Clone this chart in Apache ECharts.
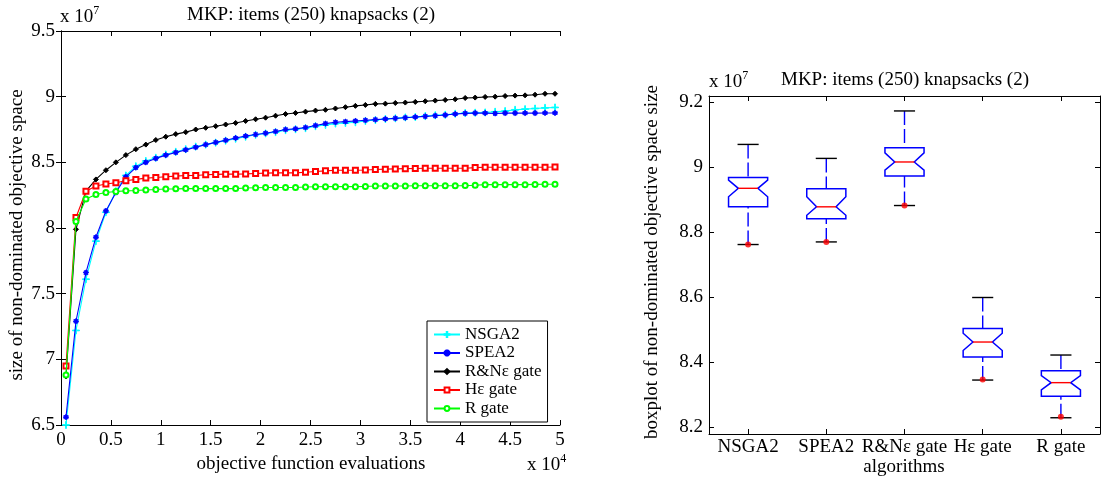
<!DOCTYPE html>
<html><head><meta charset="utf-8">
<script src="https://cdn.jsdelivr.net/npm/echarts@6/dist/echarts.min.js"></script>
<style>html,body{margin:0;padding:0;background:#fff}#c{width:1102px;height:480px}</style>
</head><body><div id="c"></div>
<script>
// ---- left chart data (x in units of 1e4 evaluations, y in units of 1e7) ----
const evals = [0.05,0.15,0.25,0.35,0.45,0.55,0.65,0.75,0.85,0.95,1.05,1.15,1.25,1.35,1.45,1.55,1.65,1.75,1.85,1.95,2.05,2.15,2.25,2.35,2.45,2.55,2.65,2.75,2.85,2.95,3.05,3.15,3.25,3.35,3.45,3.55,3.65,3.75,3.85,3.95,4.05,4.15,4.25,4.35,4.45,4.55,4.65,4.75,4.85,4.95];
const nsga2 = [6.50,7.22,7.61,7.90,8.12,8.28,8.40,8.47,8.51,8.535,8.56,8.58,8.60,8.62,8.635,8.65,8.665,8.68,8.695,8.71,8.72,8.73,8.745,8.752,8.76,8.775,8.785,8.795,8.80,8.805,8.815,8.822,8.83,8.835,8.842,8.845,8.852,8.858,8.862,8.87,8.875,8.878,8.88,8.885,8.89,8.90,8.905,8.91,8.915,8.918];
const spea2 = [6.56,7.29,7.66,7.93,8.13,8.27,8.39,8.46,8.50,8.53,8.555,8.575,8.595,8.615,8.635,8.652,8.668,8.685,8.70,8.712,8.722,8.735,8.75,8.755,8.765,8.78,8.795,8.805,8.81,8.815,8.82,8.825,8.83,8.835,8.84,8.845,8.85,8.855,8.86,8.868,8.873,8.875,8.875,8.872,8.875,8.875,8.875,8.875,8.876,8.876];
const rnGate = [6.87,7.99,8.28,8.37,8.44,8.50,8.555,8.60,8.635,8.67,8.695,8.715,8.73,8.75,8.763,8.775,8.788,8.80,8.815,8.828,8.84,8.855,8.868,8.876,8.886,8.894,8.90,8.91,8.92,8.93,8.937,8.945,8.947,8.952,8.955,8.96,8.965,8.97,8.975,8.98,8.99,8.993,8.998,9.0,9.005,9.008,9.01,9.015,9.022,9.022];
const heGate = [6.95,8.08,8.28,8.32,8.335,8.345,8.36,8.37,8.38,8.385,8.39,8.395,8.40,8.40,8.405,8.408,8.41,8.41,8.412,8.415,8.418,8.42,8.42,8.42,8.425,8.43,8.435,8.44,8.44,8.44,8.442,8.445,8.448,8.45,8.452,8.453,8.455,8.455,8.455,8.455,8.455,8.46,8.462,8.462,8.462,8.462,8.463,8.463,8.463,8.465];
const rGate = [6.88,8.05,8.22,8.255,8.27,8.278,8.283,8.285,8.29,8.293,8.297,8.298,8.30,8.30,8.30,8.30,8.30,8.30,8.305,8.307,8.308,8.308,8.308,8.308,8.312,8.314,8.315,8.315,8.315,8.315,8.316,8.32,8.32,8.32,8.32,8.322,8.322,8.322,8.322,8.322,8.323,8.325,8.33,8.33,8.33,8.33,8.33,8.332,8.333,8.333];
const seriesNames = ['NSGA2','SPEA2','R&Nε gate','Hε gate','R gate'];

// ---- right chart data (units of 1e7) ----
const boxCats = ['NSGA2','SPEA2','R&Nε gate','Hε gate','R gate'];
const boxLow   = [8.763, 8.771, 8.883, 8.346, 8.230];
const boxQ1    = [8.879, 8.842, 8.974, 8.417, 8.296];
const notchLo  = [8.910, 8.853, 8.992, 8.437, 8.316];
const boxMed   = [8.936, 8.879, 9.017, 8.463, 8.338];
const notchHi  = [8.961, 8.910, 9.045, 8.490, 8.360];
const boxQ3    = [8.969, 8.935, 9.061, 8.505, 8.375];
const boxHigh  = [9.071, 9.028, 9.174, 8.600, 8.423];
const outliers = [8.763, 8.771, 8.883, 8.348, 8.233];
const yTicksRight = [8.2, 8.4, 8.6, 8.8, 9, 9.2];

const FF = '"Liberation Serif", "Times New Roman", serif';
const FS = 19;
const black = '#000';

const plusPath = 'path://M-0.8,-8h1.6v7.2h7.2v1.6h-7.2v7.2h-1.6v-7.2h-7.2v-1.6h7.2z';
const starPath = 'path://M-1,-7h2v14h-2zM-7,-1h14v2h-14zM-5.7,-4.3L-4.3,-5.7L5.7,4.3L4.3,5.7zM4.3,-5.7L5.7,-4.3L-4.3,5.7L-5.7,4.3z';

function lineSeries(name, vals, color, symbol, size, z) {
  return {
    type: 'line', name, xAxisIndex: 0, yAxisIndex: 0, z,
    data: evals.map((x, i) => [x, vals[i]]),
    symbol, symbolSize: size, showAllSymbol: true,
    lineStyle: { color, width: 1.1 },
    itemStyle: { color, borderColor: color, borderWidth: 1 }
  };
}

function renderBox(params, api) {
  const i = api.value(0);
  const cx = api.coord([i, api.value(4)])[0];
  const Y = v => api.coord([i, v])[1];
  const bw = api.size([1, 0])[0];
  const hw = bw * 0.25, nw = hw * 0.5, cap = bw * 0.135;
  const lo = Y(api.value(1)), q1 = Y(api.value(2)), nlo = Y(api.value(3)),
        med = Y(api.value(4)), nhi = Y(api.value(5)), q3 = Y(api.value(6)), hi = Y(api.value(7));
  const blue = '#0000ff';
  const ws = { stroke: blue, lineWidth: 1.4, lineDash: [14, 4] };
  const cs = { stroke: black, lineWidth: 1.4 };
  return {
    type: 'group', children: [
      { type: 'line', shape: { x1: cx, y1: hi, x2: cx, y2: q3 }, style: ws },
      { type: 'line', shape: { x1: cx, y1: lo, x2: cx, y2: q1 }, style: ws },
      { type: 'line', shape: { x1: cx - cap, y1: hi, x2: cx + cap, y2: hi }, style: cs },
      { type: 'line', shape: { x1: cx - cap, y1: lo, x2: cx + cap, y2: lo }, style: cs },
      { type: 'polygon', shape: { points: [
          [cx - hw, q3], [cx + hw, q3], [cx + hw, nhi], [cx + nw, med], [cx + hw, nlo],
          [cx + hw, q1], [cx - hw, q1], [cx - hw, nlo], [cx - nw, med], [cx - hw, nhi]
        ] }, style: { fill: 'rgba(0,0,0,0)', stroke: blue, lineWidth: 1.5 } },
      { type: 'line', shape: { x1: cx - nw, y1: med, x2: cx + nw, y2: med }, style: { stroke: '#ff0000', lineWidth: 1.4 } }
    ]
  };
}

const axLine = { show: true, lineStyle: { color: black, width: 1 } };
const tickIn = { show: true, inside: true, length: 5, lineStyle: { color: black } };
const lbl = { color: black, fontFamily: FF, fontSize: FS };

function txt(x, y, text, align, extra) {
  return Object.assign({ type: 'text', x, y, style: { text, font: FS + 'px ' + FF, fill: black, textAlign: align || 'center', textVerticalAlign: 'middle' } }, extra || {});
}
function sci(x, y, exp) {
  return { type: 'text', x, y, style: {
    text: '{a|x 10}{b|' + exp + '}', textAlign: 'left', textVerticalAlign: 'middle',
    rich: { a: { fontFamily: FF, fontSize: FS, fill: black, lineHeight: 22, verticalAlign: 'bottom' },
            b: { fontFamily: FF, fontSize: 12, fill: black, lineHeight: 22, verticalAlign: 'top' } }
  } };
}

const option = {
  animation: false,
  backgroundColor: '#fff',
  grid: [
    { left: 61, top: 31, width: 499, height: 394 },
    { left: 709, top: 96, width: 391, height: 338 }
  ],
  xAxis: [
    { type: 'value', gridIndex: 0, min: 0, max: 5, interval: 0.5, position: 'bottom',
      axisLine: axLine, axisTick: tickIn, splitLine: { show: false },
      axisLabel: Object.assign({ margin: 6 }, lbl) },
    { type: 'value', gridIndex: 0, min: 0, max: 5, interval: 0.5, position: 'top',
      axisLine: axLine, axisTick: tickIn, splitLine: { show: false }, axisLabel: { show: false } },
    { type: 'category', gridIndex: 1, data: boxCats, position: 'bottom', boundaryGap: true,
      axisLine: axLine, axisTick: Object.assign({ alignWithLabel: true }, tickIn), splitLine: { show: false },
      axisLabel: Object.assign({ margin: 4, interval: 0 }, lbl) },
    { type: 'category', gridIndex: 1, data: boxCats, position: 'top', boundaryGap: true,
      axisLine: axLine, axisTick: Object.assign({ alignWithLabel: true }, tickIn), splitLine: { show: false },
      axisLabel: { show: false } }
  ],
  yAxis: [
    { type: 'value', gridIndex: 0, min: 6.5, max: 9.5, interval: 0.5, position: 'left',
      axisLine: axLine, axisTick: tickIn, splitLine: { show: false },
      axisLabel: Object.assign({ margin: 6 }, lbl) },
    { type: 'value', gridIndex: 0, min: 6.5, max: 9.5, interval: 0.5, position: 'right',
      axisLine: axLine, axisTick: tickIn, splitLine: { show: false }, axisLabel: { show: false } },
    { type: 'value', gridIndex: 1, min: 8.18, max: 9.22, position: 'left',
      axisLine: axLine, axisTick: Object.assign({ customValues: yTicksRight }, tickIn), splitLine: { show: false },
      axisLabel: Object.assign({ margin: 6, customValues: yTicksRight,
        formatter: v => (Math.abs(v - Math.round(v)) < 1e-9 ? String(Math.round(v)) : v.toFixed(1)) }, lbl) },
    { type: 'value', gridIndex: 1, min: 8.18, max: 9.22, position: 'right',
      axisLine: axLine, axisTick: Object.assign({ customValues: yTicksRight }, tickIn), splitLine: { show: false },
      axisLabel: { show: false } }
  ],
  legend: {
    data: seriesNames, orient: 'vertical', left: 427, top: 321,
    itemWidth: 26, itemHeight: 6, itemGap: 1.5, itemTextGap: 8,
    padding: [5, 6, 5, 6], borderColor: black, borderWidth: 1, borderRadius: 0,
    backgroundColor: '#fff', selectedMode: false,
    textStyle: { color: black, fontFamily: FF, fontSize: 17, lineHeight: 17 }
  },
  series: [
    lineSeries(seriesNames[0], nsga2, '#00ffff', plusPath, 7, 2),
    lineSeries(seriesNames[1], spea2, '#0000ff', starPath, 5, 3),
    lineSeries(seriesNames[2], rnGate, '#000000', 'diamond', 5, 4),
    lineSeries(seriesNames[3], heGate, '#ff0000', 'emptyRect', 5, 5),
    lineSeries(seriesNames[4], rGate, '#00ff00', 'emptyCircle', 5, 6),
    { type: 'custom', xAxisIndex: 2, yAxisIndex: 2, renderItem: renderBox,
      encode: { x: 0, y: [1, 2, 3, 4, 5, 6, 7] },
      data: boxCats.map((c, i) => [i, boxLow[i], boxQ1[i], notchLo[i], boxMed[i], notchHi[i], boxQ3[i], boxHigh[i]]) },
    { type: 'scatter', xAxisIndex: 2, yAxisIndex: 2, z: 10, symbol: 'circle', symbolSize: 6,
      itemStyle: { color: '#ff0000' },
      data: boxCats.map((c, i) => [i, outliers[i]]) }
  ],
  graphic: [
    txt(311, 15, 'MKP: items (250) knapsacks (2)'),
    sci(60, 16, '7'),
    txt(311, 464, 'objective function evaluations'),
    sci(527, 464, '4'),
    txt(17, 235, 'size of non-dominated objective space', 'center', { rotation: Math.PI / 2 }),
    txt(905, 80, 'MKP: items (250) knapsacks (2)'),
    sci(709, 81, '7'),
    txt(904, 467, 'algorithms'),
    txt(652, 262, 'boxplot of non-dominated objective space size', 'center', { rotation: Math.PI / 2 })
  ]
};

const chart = echarts.init(document.getElementById('c'), null, { renderer: 'canvas' });
chart.setOption(option);
</script>
</body></html>
